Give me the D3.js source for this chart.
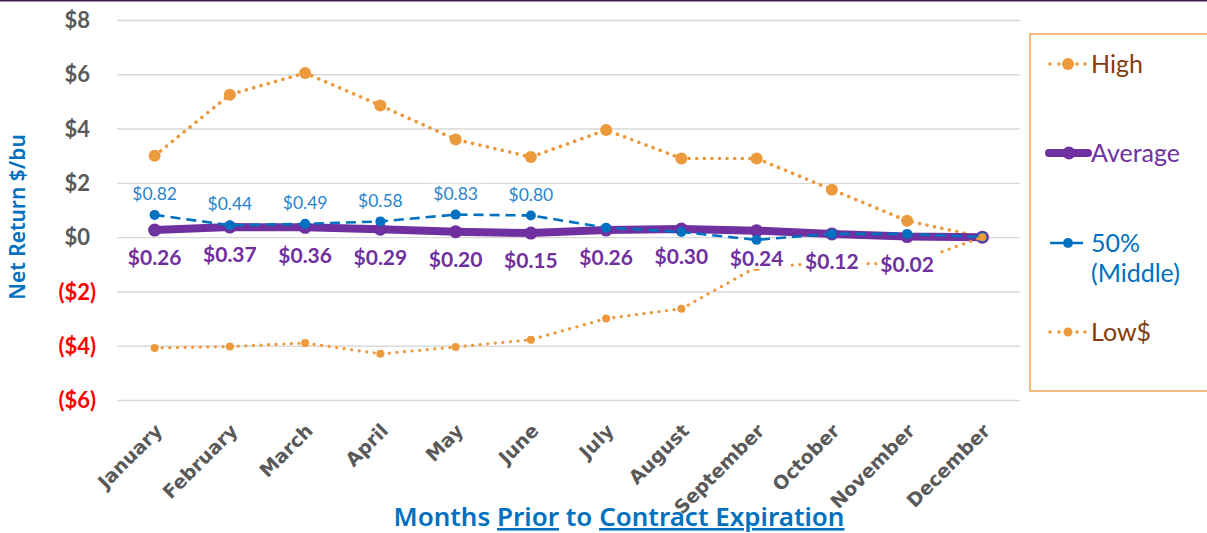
<!DOCTYPE html>
<html>
<head>
<meta charset="utf-8">
<script src="https://cdn.jsdelivr.net/npm/d3@7"></script>
<style>
    html, body { margin: 0; padding: 0; background: #fff; }
    svg { display: block; }
</style>
</head>
<body>
<svg id="chart" width="1207" height="533"></svg>
<script>
// chart values
const months = ['January', 'February', 'March', 'April', 'May', 'June',
    'July', 'August', 'September', 'October', 'November', 'December'];
const highValues = [3.0, 5.25, 6.05, 4.85, 3.6, 2.95, 3.95, 2.9, 2.9, 1.75, 0.6, 0];
const lowValues = [-4.08, -4.03, -3.9, -4.3, -4.05, -3.78, -3.0, -2.64, -1.1, -0.95, -1.0, 0];
const avgValues = [0.26, 0.37, 0.36, 0.29, 0.20, 0.15, 0.26, 0.30, 0.24, 0.12, 0.02, 0];
const midValues = [0.82, 0.44, 0.49, 0.58, 0.83, 0.80, 0.35, 0.19, -0.10, 0.12, 0.12, 0];
const avgLabelCount = 11, midLabelCount = 6;
const yTicks = [8, 6, 4, 2, 0, -2, -4, -6];
const legendNames = ['High', 'Average', '50%|(Middle)', 'Low$'];

const ORANGE = '#ed9a3c', PURPLE = '#7030a0', BLUE = '#0070c0', GREY = '#595959';

const svg = d3.select('#chart');

const x = d3.scaleBand().domain(months).range([117, 1020]);
const cx = m => x(m) + x.bandwidth() / 2;
const y = d3.scaleLinear().domain([-6, 8]).range([400, 20]);

// thin top border
svg.append('line')
    .attr('x1', 0).attr('x2', 1207).attr('y1', 0.5).attr('y2', 0.5)
    .style('stroke', '#3d1f4d').style('stroke-width', 2);

// gridlines + y ticks
const yAxis = svg.append('g').attr('transform', 'translate(117,0)')
    .call(d3.axisLeft(y)
        .tickValues(yTicks)
        .tickSize(-903)
        .tickPadding(0)
        .tickFormat(d => d < 0 ? '($' + Math.abs(d) + ')' : '$' + d));
yAxis.select('.domain').remove();
yAxis.selectAll('.tick line').style('stroke', '#d9d9d9').style('stroke-width', 1.4);
yAxis.selectAll('.tick text')
    .attr('x', d => d < 0 ? -21 : -27)
    .attr('dy', '0.35em')
    .style('font-family', 'Lato, sans-serif')
    .style('font-weight', 'bold')
    .style('font-size', '22px')
    .style('fill', d => d < 0 ? '#ff0000' : GREY);

// x tick labels, rotated
svg.append('g').selectAll('text')
    .data(months)
    .enter()
    .append('text')
    .attr('transform', d => 'translate(' + (cx(d) + 9) + ',432) rotate(-45)')
    .attr('text-anchor', 'end')
    .style('font-family', '"DejaVu Sans", sans-serif')
    .style('font-weight', 'bold')
    .style('font-size', '19px')
    .style('fill', GREY)
    .text(d => d);

// axis titles
svg.append('text')
    .attr('transform', 'translate(25,217) rotate(-90)')
    .attr('text-anchor', 'middle')
    .style('font-family', '"Noto Sans", sans-serif')
    .style('font-weight', 600)
    .style('font-size', '21px')
    .style('fill', BLUE)
    .text('Net Return $/bu');

const xTitle = svg.append('text')
    .attr('x', 619).attr('y', 526)
    .attr('text-anchor', 'middle')
    .style('font-family', '"Noto Sans", sans-serif')
    .style('font-weight', 600)
    .style('font-size', '26px')
    .style('fill', BLUE);
xTitle.append('tspan').text('Months ');
xTitle.append('tspan').style('text-decoration', 'underline').text('Prior');
xTitle.append('tspan').text(' to ');
xTitle.append('tspan').style('text-decoration', 'underline').text('Contract Expiration');

// series
const line = d3.line().x((d, i) => cx(months[i])).y(d => y(d));

function dotted(values, dotW, markerR) {
    const g = svg.append('g');
    g.append('path')
        .attr('d', line(values))
        .style('fill', 'none')
        .style('stroke', ORANGE)
        .style('stroke-width', dotW)
        .style('stroke-linecap', 'round')
        .style('stroke-dasharray', '0.1 7.5');
    g.selectAll('circle')
        .data(values)
        .enter()
        .append('circle')
        .attr('cx', (d, i) => cx(months[i]))
        .attr('cy', d => y(d))
        .attr('r', markerR)
        .style('fill', ORANGE);
}

dotted(highValues, 3.6, 6);

const avgG = svg.append('g');
avgG.append('path')
    .attr('d', line(avgValues))
    .style('fill', 'none')
    .style('stroke', PURPLE)
    .style('stroke-width', 8)
    .style('stroke-linejoin', 'round');
avgG.selectAll('circle')
    .data(avgValues)
    .enter()
    .append('circle')
    .attr('cx', (d, i) => cx(months[i]))
    .attr('cy', d => y(d))
    .attr('r', 6.5)
    .style('fill', PURPLE);

const midG = svg.append('g');
midG.append('path')
    .attr('d', line(midValues))
    .style('fill', 'none')
    .style('stroke', BLUE)
    .style('stroke-width', 2.6)
    .style('stroke-dasharray', '10 6');
midG.selectAll('circle')
    .data(midValues)
    .enter()
    .append('circle')
    .attr('cx', (d, i) => cx(months[i]))
    .attr('cy', d => y(d))
    .attr('r', 5)
    .style('fill', BLUE);

dotted(lowValues, 3.2, 4);

// data labels with white backing
function labels(values, count, dy, size, weight, color) {
    const g = svg.append('g');
    values.slice(0, count).forEach((v, i) => {
        const t = g.append('text')
            .attr('x', cx(months[i]))
            .attr('y', y(v) + dy)
            .attr('dy', '0.35em')
            .attr('text-anchor', 'middle')
            .style('font-family', 'Lato, sans-serif')
            .style('font-weight', weight)
            .style('font-size', size + 'px')
            .style('fill', color)
            .text('$' + v.toFixed(2));
        const b = t.node().getBBox();
        g.insert('rect', 'text')
            .attr('x', b.x - 3).attr('y', b.y + 1)
            .attr('width', b.width + 6).attr('height', b.height - 2)
            .style('fill', '#fff');
    });
}
labels(avgValues, avgLabelCount, 28, 21, 'bold', PURPLE);
labels(midValues, midLabelCount, -21, 17.5, 'normal', '#2a84cc');

// legend
const lg = svg.append('g');
lg.append('rect')
    .attr('x', 1030).attr('y', 34).attr('width', 200).attr('height', 357)
    .style('fill', '#fff')
    .style('stroke', '#efa656')
    .style('stroke-width', 1.5);

const legendY = [64, 153, 243, 332];
legendNames.forEach((name, i) => {
    const ly = legendY[i];
    const item = lg.append('g');
    if (i === 0 || i === 3) {
        [1050, 1059, 1077, 1085].forEach(dx => item.append('circle')
            .attr('cx', dx).attr('cy', ly).attr('r', 1.8).style('fill', ORANGE));
        item.append('circle').attr('cx', 1068).attr('cy', ly)
            .attr('r', i === 0 ? 6 : 4.5).style('fill', ORANGE);
    } else if (i === 1) {
        item.append('line').attr('x1', 1049).attr('x2', 1088).attr('y1', ly).attr('y2', ly)
            .style('stroke', PURPLE).style('stroke-width', 8).style('stroke-linecap', 'round');
        item.append('circle').attr('cx', 1069).attr('cy', ly).attr('r', 6.5).style('fill', PURPLE);
    } else {
        item.append('line').attr('x1', 1050).attr('x2', 1083).attr('y1', ly).attr('y2', ly)
            .style('stroke', BLUE).style('stroke-width', 2.6);
        item.append('circle').attr('cx', 1068).attr('cy', ly).attr('r', 5).style('fill', BLUE);
    }
    const color = i === 1 ? PURPLE : i === 2 ? BLUE : '#843c0c';
    name.split('|').forEach((part, k) => {
        item.append('text')
            .attr('x', 1091).attr('y', ly + k * 30)
            .attr('dy', '0.35em')
            .style('font-family', 'Lato, sans-serif')
            .style('font-size', '25px')
            .style('fill', color)
            .text(part);
    });
});
</script>
</body>
</html>
